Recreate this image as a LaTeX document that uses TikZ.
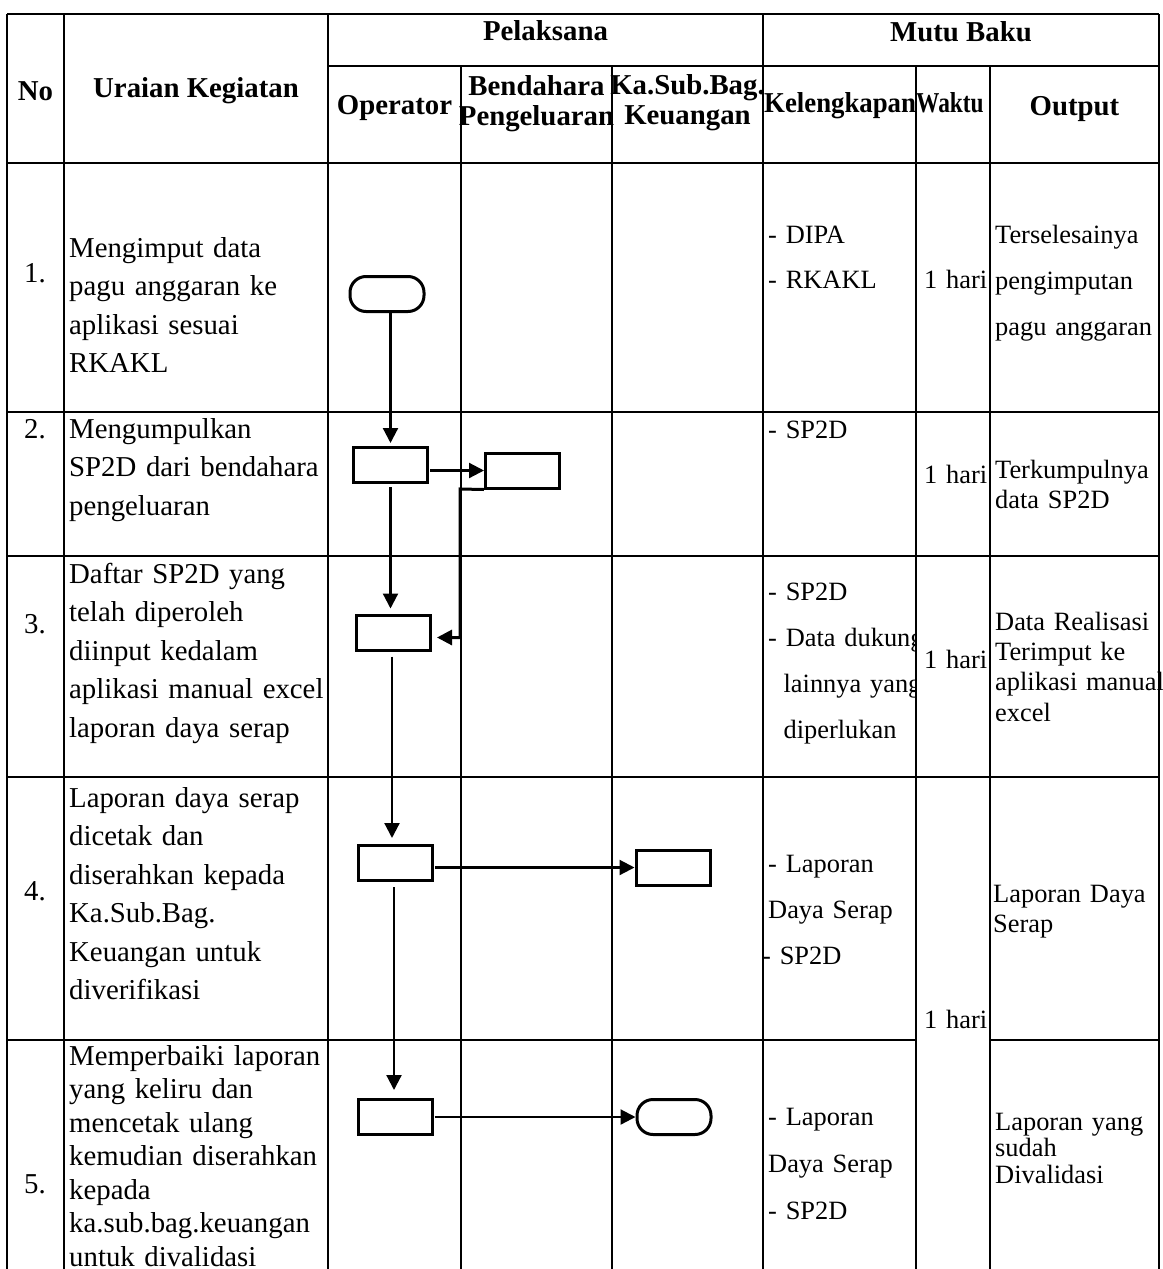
\documentclass[tikz,border=0pt]{standalone}
\usepackage{fontspec}
\setmainfont{Liberation Serif}
\usepackage{graphicx}
\usetikzlibrary{arrows.meta}
\begin{document}
\begin{tikzpicture}[x=1pt,y=-1pt,
  grid/.style={line width=1.2pt},
  box/.style={draw, line width=3pt, minimum width=74pt, minimum height=35pt, inner sep=0pt},
  term/.style={box, rounded corners=16pt},
  conn/.style={line width=2.2pt, -{Triangle[length=15pt,width=15pt]}},
  hd/.style={inner sep=0pt, anchor=base, font=\bfseries\fontsize{28.8}{33}\selectfont},
  num/.style={inner sep=0pt, anchor=base west, font=\fontsize{28.8}{33}\selectfont},
  body/.style={inner sep=0pt, anchor=base west, text width=330pt, align=left, font=\fontsize{28.8}{38.5}\selectfont},
  bodyt/.style={inner sep=0pt, anchor=base west, text width=330pt, align=left, font=\fontsize{28.8}{33.5}\selectfont},
  small/.style={inner sep=0pt, anchor=base west, text width=200pt, align=left, font=\fontsize{26.4}{#1}\selectfont},
  small/.default={30}
]
\useasboundingbox (0,0) rectangle (1162,1269);
% ---------- table grid ----------
\draw[grid] (7,14) -- (1159,14);
\draw[grid] (328,66) -- (1159,66);
\draw[grid] (7,163) -- (1159,163);
\draw[grid] (7,412) -- (1159,412);
\draw[grid] (7,556) -- (1159,556);
\draw[grid] (7,777) -- (1159,777);
\draw[grid] (7,1040) -- (916,1040);
\draw[grid] (990,1040) -- (1159,1040);
\foreach \xx in {7,64,328,763,1159} \draw[grid] (\xx,14) -- (\xx,1269);
\foreach \xx in {461,612,916,990} \draw[grid] (\xx,66) -- (\xx,1269);
% ---------- header ----------
\node[hd] (hNo) at (35.5,100) {No};
\node[hd] (hUr) at (196,97) {Uraian Kegiatan};
\node[hd] (hPel) at (545.5,40) {Pelaksana};
\node[hd] (hMutu) at (961,41) {Mutu Baku};
\node[hd] (hOp) at (394.5,114) {Operator};
\node[hd] (hBe1) at (536.5,95) {Bendahara};
\node[hd] (hBe2) at (536.5,125) {Pengeluaran};
\node[hd] (hKa1) at (687.5,94) {Ka.Sub.Bag.};
\node[hd] (hKa2) at (687.5,124) {Keuangan};
\node[hd, anchor=base west] (hKel) at (764,112) {\scalebox{0.93}[1]{Kelengkapan}};
\node[hd, anchor=base west] (hWak) at (916,112) {\scalebox{0.81}[1]{Waktu}};
\node[hd] (hOut) at (1074.5,115) {Output};
% ---------- numbers ----------
\node[num] (n1) at (24,282) {1.};
\node[num] (n2) at (24,438) {2.};
\node[num] (n3) at (24,633) {3.};
\node[num] (n4) at (24,900) {4.};
\node[num] (n5) at (24,1193) {5.};
% ---------- uraian ----------
\node[body] (u1) at (69,257) {Mengimput data\\pagu anggaran ke\\aplikasi sesuai\\RKAKL};
\node[body] (u2) at (69,438) {Mengumpulkan\\SP2D dari bendahara\\pengeluaran};
\node[body] (u3) at (69,583) {Daftar SP2D yang\\telah diperoleh\\diinput kedalam\\aplikasi manual excel\\laporan daya serap};
\node[body] (u4) at (69,807) {Laporan daya serap\\dicetak dan\\diserahkan kepada\\Ka.Sub.Bag.\\Keuangan untuk\\diverifikasi};
\node[bodyt] (u5) at (69,1065) {Memperbaiki laporan\\yang keliru dan\\mencetak ulang\\kemudian diserahkan\\kepada\\ka.sub.bag.keuangan\\untuk divalidasi};
% ---------- kelengkapan ----------
\node[small=45] (k1) at (768,243) {- DIPA\\- RKAKL};
\node[small] (k2) at (768,438) {- SP2D};
\begin{scope}
\clip (763,556) rectangle (916,777);
\node[small=46] (k3) at (768,600) {- SP2D\\- Data dukung\\\hspace*{15.4pt}lainnya yang\\\hspace*{15.4pt}diperlukan};
\end{scope}
\node[small=46] (k4) at (768,872) {- Laporan\\Daya Serap\\\hspace*{-6pt}- SP2D};
\node[small=47] (k5) at (768,1125) {- Laporan\\Daya Serap\\- SP2D};
% ---------- waktu ----------
\node[small] (w1) at (924,288) {1 hari};
\node[small] (w2) at (924,483) {1 hari};
\node[small] (w3) at (924,668) {1 hari};
\node[small] (w4) at (924,1028) {1 hari};
% ---------- output ----------
\node[small=46] (o1) at (995,243) {Terselesainya\\pengimputan\\pagu anggaran};
\node[small] (o2) at (995,478) {Terkumpulnya\\data SP2D};
\node[small=30.4] (o3) at (995,630) {Data Realisasi\\Terimput ke\\aplikasi manual\\excel};
\node[small] (o4) at (993,902) {Laporan Daya\\Serap};
\node[small=26.5] (o5) at (995,1130) {Laporan yang\\sudah\\Divalidasi};
% ---------- flow shapes ----------
\node[term] (T1) at (387,294) {};
\node[box] (B2) at (390.5,465) {};
\node[box] (BB) at (522.5,470.5) {};
\node[box] (B3) at (393.5,632.5) {};
\node[box] (B4) at (395.5,863) {};
\node[box] (K4) at (673,867.5) {};
\node[box] (B5) at (395,1117) {};
\node[term] (T5) at (674,1117) {};
\coordinate (c1) at (460,489);
% ---------- connectors ----------
\draw[conn, shorten >=3pt] (T1.south -| B2.north) -- (B2.north);
\draw[conn, shorten <=3pt, shorten >=5pt] (B2.south) -- (B2.south |- B3.north);
\draw[conn, shorten <=1pt] (B2.east |- BB.west) -- (BB.west);
\draw[line width=3pt, -{Triangle[length=15pt,width=15pt]}, shorten >=5pt] (BB.south west) -- (c1) |- ([yshift=-5pt]B3.east);
\draw[conn, shorten <=5pt, shorten >=6pt] (B3.south -| 392,0) -- (B4.north -| 392,0);
\draw[conn, shorten <=1pt] (B4.east |- K4.west) -- (K4.west);
\draw[conn, shorten <=5pt, shorten >=8pt] (B4.south -| 394,0) -- (B5.north -| 394,0);
\draw[conn, shorten <=1pt] (B5.east) -- (T5.west);
\end{tikzpicture}
\end{document}
